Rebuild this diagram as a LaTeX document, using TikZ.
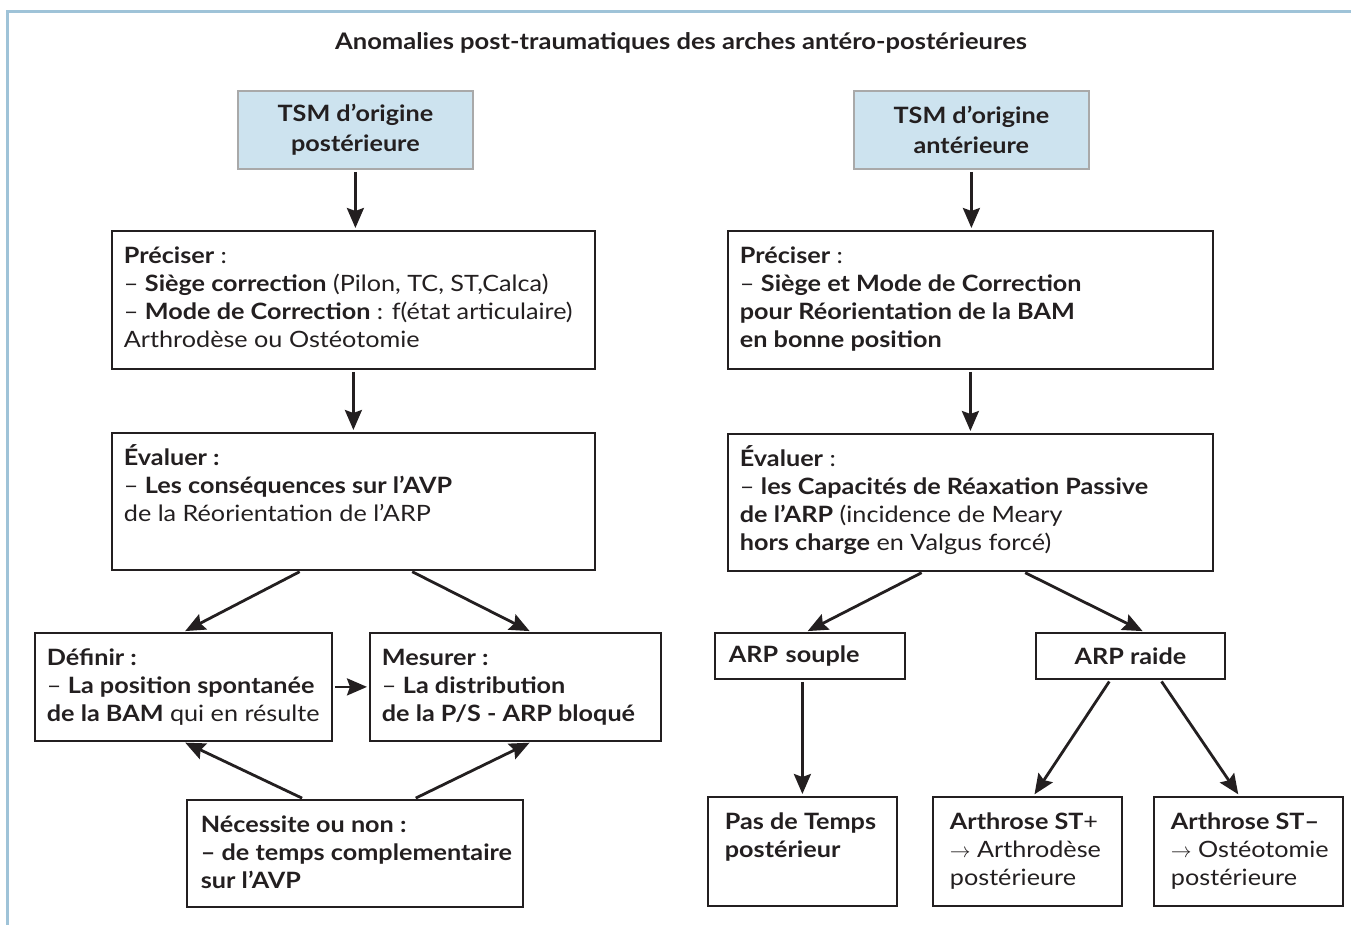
\documentclass[tikz,border=0pt]{standalone}
\usepackage{fontspec}
\setmainfont{Lato}[FakeStretch=1.12]
\usetikzlibrary{arrows.meta,calc}
\definecolor{frameblue}{HTML}{9FC3D8}
\definecolor{headfill}{HTML}{CDE3EF}
\definecolor{headdraw}{HTML}{A9A9A9}
\definecolor{ink}{HTML}{231F20}
\newcommand{\fs}{\fontsize{22.5}{28}\selectfont}
% width, height, left pad, text
\newcommand{\bxc}[4]{\parbox[c][#2][t]{#1}{\fs\raggedright\leftskip=#3\relax\rule{0pt}{33pt}#4}}
\tikzset{
  bx/.style={draw=ink, line width=1.8pt, inner sep=0pt, anchor=north west, text=ink},
  head/.style={draw=headdraw, fill=headfill, line width=1.8pt, inner sep=0pt, anchor=north west,
    align=center, font=\fontsize{22.5}{30}\selectfont\bfseries, text=ink},
  small/.style={draw=ink, line width=1.8pt, inner sep=0pt, anchor=north west, font=\fs\bfseries, text=ink},
  arr/.style={draw=ink, line width=2.8pt, -{Stealth[length=20pt,width=17pt,inset=3pt]},
    shorten <=2pt, shorten >=2pt},
  frame/.style={draw=frameblue, line width=3pt}
}
\begin{document}
\begin{tikzpicture}[x=1pt,y=-1pt]
\useasboundingbox (0,0) rectangle (1351,925);
\draw[frame] (7,925) -- (7,12) -- (1351,12);

\node[anchor=base, font=\fontsize{22.8}{26}\selectfont\bfseries, text=ink] (title) at (681,50)
  {Anomalies post-traumatiques des arches antéro-postérieures};

% left column
\node[head, minimum width=235pt, minimum height=78pt] (tsmP) at (237,90) {TSM d’origine\\postérieure};
\node[bx] (precP) at (111,230) {\bxc{483pt}{138pt}{12pt}{%
  \textbf{Préciser} :\\
  – \textbf{Siège correction} (Pilon, TC, ST,Calca)\\
  – \textbf{Mode de Correction} : f(état articulaire)\\
  Arthrodèse ou Ostéotomie}};
\node[bx] (evalP) at (111,432) {\bxc{483pt}{137pt}{12pt}{%
  \textbf{Évaluer :}\\
  – \textbf{Les conséquences sur l’AVP}\\
  de la Réorientation de l’ARP}};
\node[bx] (def) at (34,632) {\bxc{297pt}{108pt}{12pt}{%
  \textbf{Définir :}\\
  – \textbf{La position spontanée}\\
  \textbf{de la BAM} qui en résulte}};
\node[bx] (mes) at (369,632) {\bxc{291pt}{108pt}{12pt}{%
  \textbf{Mesurer :}\\
  – \textbf{La distribution}\\
  \textbf{de la P/S - ARP bloqué}}};
\node[bx] (nec) at (186,799) {\bxc{336pt}{107pt}{14pt}{%
  \textbf{Nécessite ou non :}\\
  \textbf{– de temps complementaire}\\
  \textbf{sur l’AVP}}};

% right column
\node[head, minimum width=235pt, minimum height=78pt] (tsmA) at (853,90) {TSM d’origine\\antérieure};
\node[bx] (precA) at (727,230) {\bxc{485pt}{138pt}{12pt}{%
  \textbf{Préciser} :\\
  – \textbf{Siège et Mode de Correction}\\
  \textbf{pour Réorientation de la BAM}\\
  \textbf{en bonne position}}};
\node[bx] (evalA) at (727,433) {\bxc{485pt}{137pt}{12pt}{%
  \textbf{Évaluer} :\\
  – \textbf{les Capacités de Réaxation Passive}\\
  \textbf{de l’ARP} (incidence de Meary\\
  \textbf{hors charge} en Valgus forcé)}};
\node[small, minimum height=46pt, text width=162pt, inner xsep=14pt, align=left] (souple) at (714,632) {ARP souple};
\node[small, minimum height=46pt, minimum width=189pt, align=center] (raide) at (1035,632) {ARP raide};
\node[bx] (pas) at (707,796) {\bxc{189pt}{109pt}{17pt}{%
  \textbf{Pas de Temps}\\
  \textbf{postérieur}}};
\node[bx] (stp) at (932,796) {\bxc{189pt}{109pt}{17pt}{%
  \textbf{Arthrose ST}+\\
  $\rightarrow$ Arthrodèse\\
  postérieure}};
\node[bx] (stm) at (1153,796) {\bxc{189pt}{109pt}{17pt}{%
  \textbf{Arthrose ST–}\\
  $\rightarrow$ Ostéotomie\\
  postérieure}};

% connectors left
\draw[arr] (tsmP.south) -- (tsmP.south |- precP.north);
\draw[arr] (precP.south) -- (evalP.north);
\draw[arr] ([xshift=-52pt]evalP.south) -- ([xshift=0pt]def.north);
\draw[arr] ([xshift=57pt]evalP.south) -- ([xshift=16pt]mes.north);
\draw[arr] (def.east) -- (mes.west);
\draw[arr] ([xshift=-51pt]nec.north) -- ([xshift=0pt]def.south);
\draw[arr] ([xshift=59pt]nec.north) -- ([xshift=16pt]mes.south);

% connectors right
\draw[arr] (tsmA.south) -- (tsmA.south |- precA.north);
\draw[arr] (precA.south) -- (evalA.north);
\draw[arr] ([xshift=-47pt]evalA.south) -- ([xshift=-4pt]souple.north);
\draw[arr] ([xshift=53pt]evalA.south) -- ([xshift=14pt]raide.north);
\draw[arr] (souple.south -| pas.north) -- (pas.north);
\draw[arr] ([xshift=-20pt]raide.south) -- ([xshift=6pt]stp.north);
\draw[arr] ([xshift=30pt]raide.south) -- ([xshift=-9pt]stm.north);
\end{tikzpicture}
\end{document}
